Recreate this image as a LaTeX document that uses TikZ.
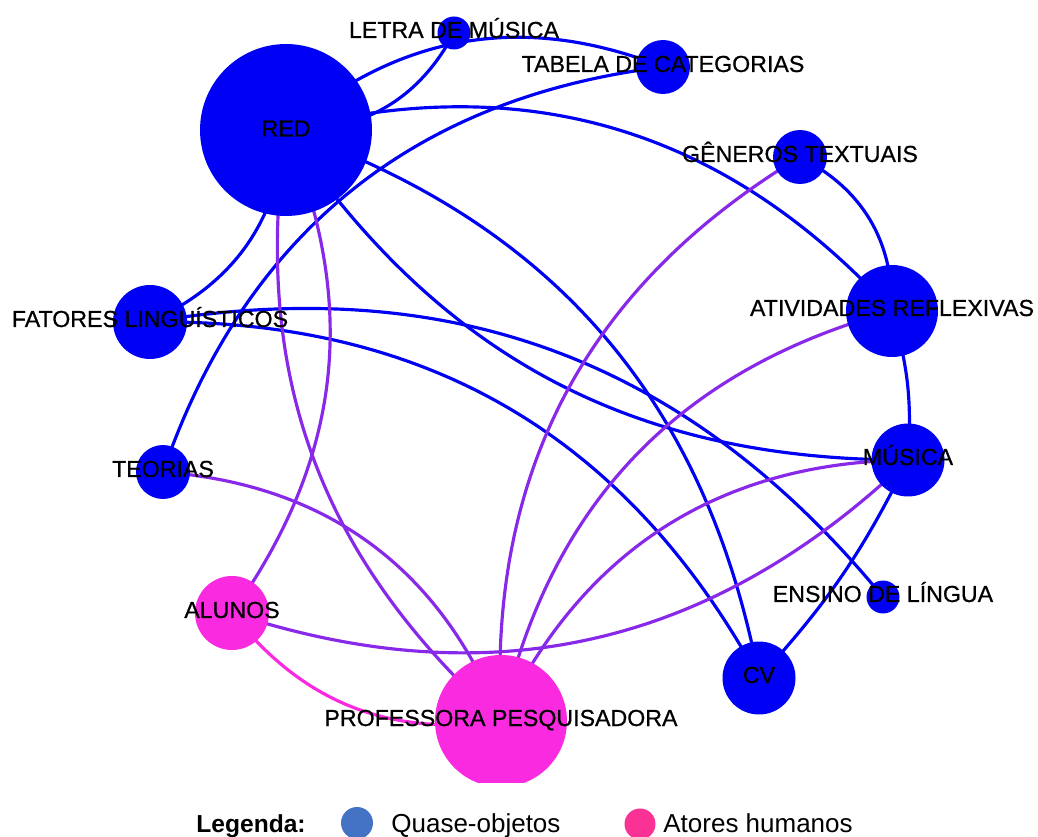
\documentclass[tikz,border=0pt]{standalone}
\usepackage{fontspec}
\setmainfont{Liberation Sans}
\newfontfamily\lblfont[FakeBold=0.7]{Liberation Sans}
\usepackage{tikz}
\usetikzlibrary{positioning,backgrounds}
\definecolor{netblue}{RGB}{0,0,245}
\definecolor{netpink}{RGB}{250,42,225}
\definecolor{netpurple}{RGB}{136,40,232}
\definecolor{legblue}{RGB}{68,114,196}
\definecolor{legpink}{RGB}{250,50,150}
\tikzset{
    qobj/.style={circle, fill=netblue, inner sep=0pt},
    hact/.style={circle, fill=netpink, inner sep=0pt},
    lbl/.style={inner sep=0pt, anchor=base, yshift=-0.1cm, font=\lblfont\fontsize{13.2}{15}\selectfont},
    qlink/.style={line width=1.8pt, netblue},
    mixlink/.style={line width=1.8pt, netpurple},
    hlink/.style={line width=1.8pt, netpink},
    legtext/.style={inner sep=0pt, anchor=base west, font=\fontsize{14.8}{17}\selectfont},
}
\begin{document}
\begin{tikzpicture}[x=0.02cm, y=0.02cm]
    \useasboundingbox (0,0) rectangle (1038,-837);
    \begin{scope}[on background layer]
        \fill[white] (0,0) rectangle (1038,-837);
    \end{scope}

    \begin{scope}
    \clip (0,0) rectangle (1038,-782);
    % Quase-objetos
    \node[qobj, minimum size=3.44cm] (RED) at (286,-130) {};
    \node[qobj, minimum size=0.66cm] (LETRA) at (454,-33) {};
    \node[qobj, minimum size=1.08cm] (TABELA) at (663,-67) {};
    \node[qobj, minimum size=1.08cm] (GENEROS) at (800,-157) {};
    \node[qobj, minimum size=1.84cm] (ATIV) at (892,-311) {};
    \node[qobj, minimum size=1.46cm] (MUSICA) at (908,-460) {};
    \node[qobj, minimum size=0.66cm] (ENSINO) at (883,-597) {};
    \node[qobj, minimum size=1.46cm] (CV) at (759,-678) {};
    \node[qobj, minimum size=1.08cm] (TEORIAS) at (163,-472) {};
    \node[qobj, minimum size=1.48cm] (FATORES) at (150,-322) {};
    % Atores humanos
    \node[hact, minimum size=2.64cm] (PROF) at (501,-721) {};
    \node[hact, minimum size=1.48cm] (ALUNOS) at (232,-613) {};

    % Links
    \begin{scope}[on background layer]
        \draw[qlink] (RED.center) to[bend left=31] (TABELA.center);
        \draw[qlink] (RED.center) to[bend right=32] (LETRA.center);
        \draw[qlink] (RED.center) to[bend left=31] (ATIV.center);
        \draw[qlink] (RED.center) to[bend left=30] (FATORES.center);
        \draw[qlink] (RED.center) to[bend right=28] (MUSICA.center);
        \draw[qlink] (RED.center) to[bend left=30] (CV.center);
        \draw[qlink] (TEORIAS.center) to[bend left=32] (TABELA.center);
        \draw[qlink] (FATORES.center) to[bend left=30] (ENSINO.center);
        \draw[qlink] (FATORES.center) to[bend left=31] (CV.center);
        \draw[qlink] (GENEROS.center) to[bend left=32] (ATIV.center);
        \draw[qlink] (ATIV.center) to[bend left=10] (MUSICA.center);
        \draw[qlink] (MUSICA.center) to[bend left=8] (CV.center);
        \draw[mixlink] (RED.center) to[bend right=28] (PROF.center);
        \draw[mixlink] (RED.center) to[bend left=29] (ALUNOS.center);
        \draw[mixlink] (TEORIAS.center) to[bend left=32] (PROF.center);
        \draw[mixlink] (ALUNOS.center) to[bend right=31] (MUSICA.center);
        \draw[mixlink] (PROF.center) to[bend left=31] (GENEROS.center);
        \draw[mixlink] (PROF.center) to[bend left=31] (ATIV.center);
        \draw[mixlink] (PROF.center) to[bend left=32] (MUSICA.center);
        \draw[hlink] (ALUNOS.center) to[bend right=30] (PROF.center);
    \end{scope}

    % Labels
    \node[lbl, yshift=-0.03cm] (RED-t) at (RED) {RED};
    \node[lbl] (LETRA-t) at (LETRA) {LETRA DE MÚSICA};
    \node[lbl] (TABELA-t) at (TABELA) {TABELA DE CATEGORIAS};
    \node[lbl] (GENEROS-t) at (GENEROS) {GÊNEROS TEXTUAIS};
    \node[lbl] (ATIV-t) at (ATIV) {ATIVIDADES REFLEXIVAS};
    \node[lbl] (MUSICA-t) at (MUSICA) {MÚSICA};
    \node[lbl] (ENSINO-t) at (ENSINO) {ENSINO DE LÍNGUA};
    \node[lbl] (CV-t) at (CV) {CV};
    \node[lbl] (TEORIAS-t) at (TEORIAS) {TEORIAS};
    \node[lbl] (FATORES-t) at (FATORES) {FATORES LINGUÍSTICOS};
    \node[lbl] (PROF-t) at (PROF) {PROFESSORA PESQUISADORA};
    \node[lbl] (ALUNOS-t) at (ALUNOS) {ALUNOS};
    \end{scope}

    % Legend
    \node[legtext, font=\bfseries\fontsize{14}{17}\selectfont] (legtitle) at (196,-832) {Legenda:};
    \node[circle, fill=legblue, inner sep=0pt, minimum size=0.64cm] (legq) at (357,-823) {};
    \node[legtext] (legq-t) at (391,-832) {Quase-objetos};
    \node[circle, fill=legpink, inner sep=0pt, minimum size=0.62cm] (legh) at (640,-824) {};
    \node[legtext] (legh-t) at (663,-832) {Atores humanos};
\end{tikzpicture}
\end{document}
